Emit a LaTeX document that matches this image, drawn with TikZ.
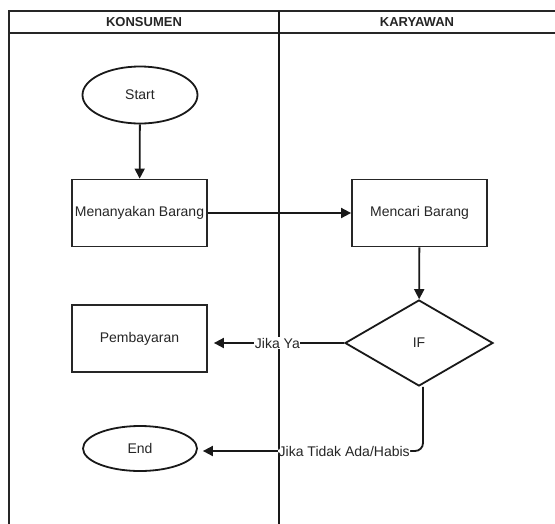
\documentclass[tikz,border=0pt]{standalone}
\usepackage{fontspec}
\setmainfont{Liberation Sans}
\usetikzlibrary{shapes.geometric,arrows.meta}
\begin{document}
\begin{tikzpicture}[x=1pt,y=-1pt,
  lane/.style={line width=1.8pt,draw=black!85},
  lanediv/.style={line width=2.8pt,draw=black!90},
  hdr/.style={font=\fontsize{13}{15}\selectfont\bfseries,text=black!85},
  proc/.style={draw=black!85,line width=1.8pt,minimum width=135pt,minimum height=67pt,inner sep=0pt,font=\fontsize{14}{16}\selectfont,text=black!85},
  term/.style={ellipse,draw=black!90,line width=1.8pt,minimum width=115pt,minimum height=57pt,inner sep=0pt,font=\fontsize{14}{16}\selectfont,text=black!85},
  dec/.style={diamond,draw=black!90,line width=1.8pt,minimum width=148pt,minimum height=86pt,inner sep=0pt,aspect=1.72,font=\fontsize{14}{16}\selectfont,text=black!85},
  flow/.style={line width=1.8pt,draw=black!90,-{Triangle[length=10pt,width=10pt]}},
  lbl/.style={fill=white,inner sep=0.5pt,font=\fontsize{14}{16}\selectfont,text=black!85}
]
\useasboundingbox (0,0) rectangle (555,523);
\fill[white] (0,0) rectangle (555,523);
% swimlane frame
\draw[lane] (9,530) -- (9,11) -- (560,11);
\draw[lane] (9,33) -- (560,33);
\draw[lanediv] (279,11) -- (279,530);
\node[hdr] (h1) at (144,22) {KONSUMEN};
\node[hdr] (h2) at (417,22) {KARYAWAN};
% nodes
\node[term] (start) at (140,95) {Start};
\node[proc] (tanya) at (139.5,213) {Menanyakan Barang};
\node[proc] (cari) at (419.5,213) {Mencari Barang};
\node[dec] (if) at (419,343) {IF};
\node[proc] (bayar) at (139.5,338.5) {Pembayaran};
\node[term,minimum width=114pt,minimum height=45pt] (end) at (140,448.5) {End};
\coordinate (c1) at (423,451);
% connectors
\draw[flow] (start) -- (tanya);
\draw[flow] (tanya) -- (cari);
\draw[flow] (cari) -- (if);
\draw[flow,shorten >=6pt] (if.west) -- node[lbl,pos=0.49] {Jika Ya} (if.west -| bayar.east);
\draw[flow,rounded corners=8pt,shorten >=5pt] (if.south -| c1) -- (c1) -- node[lbl,pos=0.35] {Jika Tidak Ada/Habis} (c1 -| end.east);
\end{tikzpicture}
\end{document}
